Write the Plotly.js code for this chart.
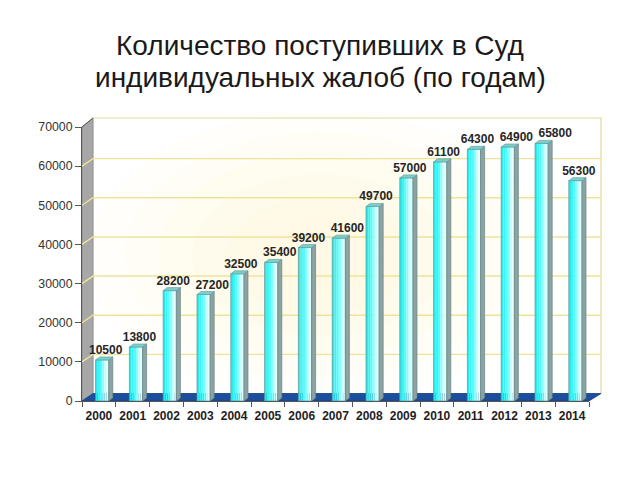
<!DOCTYPE html>
<html>
<head>
<meta charset="utf-8">
<script src="https://cdn.plot.ly/plotly-3.0.1.min.js"></script>
<style>html,body{margin:0;padding:0;background:#fff;}#chart{width:640px;height:480px;}</style>
</head>
<body>
<div id="chart"></div>
<script>
// ---- data ----
const years = ['2000','2001','2002','2003','2004','2005','2006','2007','2008','2009','2010','2011','2012','2013','2014'];
const complaints = [10500,13800,28200,27200,32500,35400,39200,41600,49700,57000,61100,64300,64900,65800,56300];
const yTicks = [0,10000,20000,30000,40000,50000,60000,70000];
const titleLine1 = 'Количество поступивших в Суд';
const titleLine2 = 'индивидуальных жалоб (по годам)';

// ---- geometry (style) ----
const W = 640, H = 480;
const X0 = 82, X1 = 589, YB = 401, YT = 127;
const px = x => x / W, py = y => 1 - y / H;
const idx = years.map((_, i) => i);
const yPerPx = 70000 / (YB - YT);
const barL = -0.098, barW = 0.39;
const dx = 0.12, dy = 3 * yPerPx;      // bar depth
const wallDX = 11, wallDY = 7.5;        // wall depth (px)
const wallDYv = wallDY * yPerPx;
const font = 'Liberation Sans, Arial, sans-serif';

const traces = [];
// front face, drawn as strips to imitate a gradient
const stripCols = ['#2ee8ea', '#36f6f7', '#55fbfc', '#8afdfd', '#c4ffff', '#e4ffff'];
const sw = barW / stripCols.length;
stripCols.forEach((c, k) => {
  traces.push({
    type: 'bar', x: idx, y: complaints, width: sw, offset: barL + k * sw,
    marker: {color: c, line: {width: 0}}, hoverinfo: 'skip', showlegend: false
  });
});
// front outline
traces.push({
  type: 'bar', x: idx, y: complaints, width: barW, offset: barL,
  marker: {color: 'rgba(0,0,0,0)', line: {width: 0.7, color: '#5f9595'}},
  hoverinfo: 'skip', showlegend: false
});
// side and top faces
const sx = [], sy = [], tx = [], ty = [];
complaints.forEach((v, i) => {
  const L = i + barL, R = i + barL + barW;
  sx.push(R, R + dx, R + dx, R, R, null);
  sy.push(0, dy, v + dy, v, 0, null);
  tx.push(L, L + dx, R + dx, R, L, null);
  ty.push(v, v + dy, v + dy, v, v, null);
});
traces.push({type: 'scatter', mode: 'lines', x: sx, y: sy, fill: 'toself', fillcolor: '#8ba3a2',
  line: {color: '#627e7e', width: 0.6}, hoverinfo: 'skip', showlegend: false, cliponaxis: false});
traces.push({type: 'scatter', mode: 'lines', x: tx, y: ty, fill: 'toself', fillcolor: '#7ccfcd',
  line: {color: '#5a9a9a', width: 0.6}, hoverinfo: 'skip', showlegend: false, cliponaxis: false});
// value labels, nudged right when they would collide with the previous one
const labelX = [];
complaints.forEach((v, i) => {
  let x = i + 0.2;
  if (i > 0 && Math.abs(v - complaints[i - 1]) < 3000 && x - labelX[i - 1] < 1.15) x = labelX[i - 1] + 1.15;
  labelX.push(x);
});
traces.push({
  type: 'scatter', mode: 'text', x: labelX, y: complaints.map(v => v + dy),
  text: complaints.map(String), textposition: 'top center',
  textfont: {family: font, size: 12, color: '#262626', weight: 'bold'},
  hoverinfo: 'skip', showlegend: false, cliponaxis: false
});

// ---- decorations: walls, floor, grid ----
const shapes = [];
// back wall
shapes.push({type: 'rect', xref: 'paper', yref: 'paper', layer: 'below',
  x0: px(X0 + wallDX), x1: px(601), y0: py(YB - wallDY), y1: py(YT - 9),
  fillcolor: '#ffffff', line: {color: '#e2d89a', width: 1.2}});
// soft glow in the middle of the back wall
[170, 145, 120, 95, 70, 45].forEach(r => {
  shapes.push({type: 'circle', xref: 'paper', yref: 'paper', layer: 'below',
    x0: px(320 - r * 1.35), x1: px(320 + r * 1.35), y0: py(255 + r * 0.85), y1: py(255 - r * 0.85),
    fillcolor: 'rgba(255,247,200,0.09)', line: {width: 0}});
});
// left wall
shapes.push({type: 'path', xref: 'paper', yref: 'paper', layer: 'below',
  path: `M ${px(X0)} ${py(YB)} L ${px(X0)} ${py(YT)} L ${px(X0 + wallDX)} ${py(YT - 9)} L ${px(X0 + wallDX)} ${py(YB - wallDY)} Z`,
  fillcolor: '#a7a7a7', line: {color: '#8a8a8a', width: 0.8}});
// grid lines (on walls)
yTicks.filter(v => v > 0 && v < 70000).forEach(v => {
  shapes.push({type: 'path', xref: 'paper', yref: 'y', layer: 'below',
    path: `M ${px(X0)} ${v} L ${px(X0 + wallDX)} ${v + wallDYv} L ${px(601)} ${v + wallDYv}`,
    line: {color: '#efe39a', width: 1.4}});
});
// floor
shapes.push({type: 'path', xref: 'paper', yref: 'paper', layer: 'below',
  path: `M ${px(X0)} ${py(YB)} L ${px(X0 + wallDX)} ${py(YB - wallDY)} L ${px(601)} ${py(YB - wallDY)} L ${px(X1)} ${py(YB)} Z`,
  fillcolor: '#1b4f9e', line: {color: '#16407f', width: 0.8}});
// top-left edge
shapes.push({type: 'line', xref: 'paper', yref: 'paper', layer: 'below',
  x0: px(X0), y0: py(YT), x1: px(X0 + wallDX), y1: py(YT - 9), line: {color: '#555', width: 1}});

const layout = {
  width: W, height: H,
  margin: {l: 0, r: 0, t: 0, b: 0},
  paper_bgcolor: '#ffffff', plot_bgcolor: 'rgba(0,0,0,0)',
  barmode: 'overlay',
  showlegend: false,
  title: {text: titleLine1, x: 0.5, xanchor: 'center', xref: 'paper', y: py(45), yanchor: 'middle',
    font: {family: font, size: 28, color: '#1a1a1a'}},
  annotations: [{text: titleLine2, xref: 'paper', yref: 'paper', x: 0.5, y: py(77),
    xanchor: 'center', yanchor: 'middle', showarrow: false,
    font: {family: font, size: 28, color: '#1a1a1a'}}],
  xaxis: {
    domain: [px(X0), px(X1)], range: [-0.5, 14.5], type: 'linear',
    tickmode: 'array', tickvals: idx, ticktext: years,
    ticks: 'outside', ticklen: 4, tickcolor: 'rgba(0,0,0,0)',
    minor: {tick0: -0.5, dtick: 1, ticks: 'outside', ticklen: 5, tickcolor: '#555', tickwidth: 1},
    showline: true, linecolor: '#555', linewidth: 1, showgrid: false, zeroline: false,
    tickfont: {family: font, size: 12, color: '#1e1e1e', weight: 'bold'}, fixedrange: true
  },
  yaxis: {
    domain: [py(YB), py(YT)], range: [0, 70000],
    tickmode: 'array', tickvals: yTicks, ticktext: yTicks.map(String),
    ticks: 'outside', ticklen: 6, tickcolor: '#555',
    showline: true, linecolor: '#555', linewidth: 1, showgrid: false, zeroline: false,
    tickfont: {family: font, size: 12.3, color: '#333'}, fixedrange: true
  },
  shapes: shapes
};

Plotly.newPlot('chart', traces, layout, {displayModeBar: false, staticPlot: true});
</script>
</body>
</html>
